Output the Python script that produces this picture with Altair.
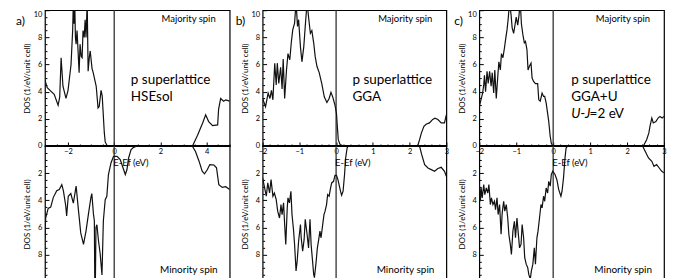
import altair as alt
import pandas as pd

FONT = "Lato"

# ---------------- data: panel a (HSEsol) ----------------
A_MAJ_E = [-3.0, -2.9, -2.78, -2.6, -2.43, -2.36, -2.30, -2.22, -2.09, -2.0, -1.87, -1.80, -1.77, -1.74,
           -1.71, -1.68, -1.65, -1.61, -1.56, -1.52, -1.48, -1.43, -1.39, -1.35, -1.30, -1.26, -1.22,
           -1.17, -1.13, -1.08, -1.04, -0.96, -0.91, -0.78, -0.70, -0.65, -0.57, -0.52, -0.43, -0.39,
           -0.30, 3.39, 3.61, 3.83, 3.96, 4.09, 4.26, 4.48, 4.52, 4.61, 4.74, 4.83, 5.0]
A_MAJ_D = [4.85, 4.3, 4.1, 3.8, 3.0, 3.6, 6.5, 4.4, 3.5, 4.1, 6.0, 8.5, 10.6, 9.0,
           10.6, 8.0, 7.5, 8.5, 6.8, 5.4, 7.5, 6.6, 6.5, 8.5, 8.0, 9.3, 8.0,
           10.6, 5.5, 6.5, 7.0, 5.7, 5.4, 4.4, 2.8, 2.9, 4.1, 3.7, 1.0, 0.3,
           0.0, 0.0, 0.8, 1.7, 2.3, 1.8, 1.5, 1.55, 2.7, 3.5, 3.3, 3.4, 3.3]
A_MIN_E = [-3.0, -2.97, -2.86, -2.75, -2.64, -2.49, -2.38, -2.27, -2.20, -2.10, -2.06, -1.99, -1.88,
           -1.77, -1.65, -1.55, -1.45, -1.33, -1.22, -1.12, -1.01, -0.97, -0.90, -0.86, -0.84, -0.82,
           -0.79, -0.75, -0.68, -0.61, -0.53, -0.47, -0.39, -0.32, -0.25, -0.14, -0.03, 0.12, 0.26,
           0.38, 0.48, 0.55, 0.62, 0.73, 0.84, 0.99, 3.38, 3.52, 3.67, 3.81, 3.91, 4.03, 4.14, 4.32,
           4.43, 4.53, 4.68, 4.83, 5.0]
A_MIN_D = [6.8, 5.3, 4.6, 4.5, 3.8, 3.3, 3.2, 2.85, 3.3, 4.4, 5.15, 3.7, 3.5,
           4.2, 2.95, 4.7, 6.4, 7.25, 6.25, 5.05, 3.8, 3.5, 5.0, 5.5, 10.6, 10.6,
           6.0, 5.8, 7.0, 7.9, 9.5, 5.5, 3.95, 3.7, 2.1, 1.25, 0.76, 0.76, 1.0,
           1.6, 2.1, 1.75, 0.9, 0.27, 0.1, 0.0, 0.0, 0.4, 1.1, 1.86, 2.05, 1.75, 1.37, 1.4,
           1.6, 2.85, 3.05, 3.0, 3.2]

# ---------------- data: panel b (GGA) ----------------
B_MAJ_E = [-2.0, -1.92, -1.85, -1.80, -1.76, -1.72, -1.67, -1.63, -1.60, -1.56, -1.51, -1.47, -1.44,
           -1.40, -1.35, -1.31, -1.26, -1.22, -1.18, -1.13, -1.09, -1.05, -1.02, -0.97, -0.93, -0.88,
           -0.84, -0.79, -0.75, -0.70, -0.66, -0.61, -0.57, -0.52, -0.46, -0.39, -0.32, -0.25, -0.19,
           -0.14, -0.09, -0.03, 0.01, 0.04, 0.06, 0.11, 0.20, 2.22, 2.27, 2.32, 2.39, 2.45, 2.54,
           2.63, 2.69, 2.77, 2.86, 2.95, 3.0]
B_MAJ_D = [3.5, 2.9, 3.9, 3.5, 4.1, 3.4, 6.1, 4.5, 6.1, 4.6, 5.8, 4.2, 6.4,
           3.5, 5.6, 6.8, 6.35, 7.6, 8.55, 9.05, 10.6, 8.8, 9.3, 7.3, 6.2, 7.3,
           8.8, 10.6, 9.5, 8.3, 8.5, 7.6, 6.6, 5.85, 5.4, 4.6, 3.6, 3.2, 3.5,
           3.95, 3.6, 3.0, 2.4, 1.2, 0.45, 0.1, 0.0, 0.0, 0.45, 0.95, 1.45, 1.6, 1.7,
           1.96, 2.05, 1.95, 1.7, 1.7, 2.3]
B_MIN_E = [-2.0, -1.90, -1.86, -1.81, -1.77, -1.72, -1.68, -1.63, -1.59, -1.54, -1.50, -1.47, -1.43,
           -1.40, -1.37, -1.33, -1.31, -1.27, -1.23, -1.20, -1.16, -1.13, -1.09, -1.06, -1.02, -0.97,
           -0.95, -0.91, -0.87, -0.84, -0.79, -0.75, -0.71, -0.68, -0.64, -0.61, -0.59, -0.55, -0.51,
           -0.48, -0.44, -0.41, -0.37, -0.33, -0.30, -0.26, -0.23, -0.19, -0.15, -0.12, -0.07, -0.03,
           0.01, 0.05, 0.08, 0.12, 0.15, 0.19, 0.23, 0.26, 0.30, 0.33, 2.27, 2.33, 2.41, 2.50, 2.59,
           2.68, 2.77, 2.86, 2.95, 3.0]
B_MIN_D = [2.35, 3.7, 2.72, 3.46, 2.48, 3.7, 3.46, 3.95, 4.8, 5.3, 4.31, 5.05, 4.19,
           5.78, 7.25, 4.56, 3.82, 4.19, 3.33, 5.05, 6.15, 7.25, 9.2, 8.5, 7.0, 5.78,
           6.76, 7.75, 6.88, 5.4, 6.5, 7.5, 5.4, 7.25, 8.5, 9.46, 9.7, 8.7, 7.5,
           7.0, 6.27, 6.76, 5.9, 5.05, 4.8, 4.31, 3.58, 3.7, 3.09, 2.72, 2.6, 2.16,
           2.16, 2.48, 2.84, 3.33, 3.63, 3.33, 2.1, 0.88, 0.15, 0.0, 0.0, 0.64, 1.37, 1.62, 1.74,
           1.86, 1.66, 1.57, 1.86, 2.23]

# ---------------- data: panel c (GGA+U) ----------------
C_MAJ_E = [-2.0, -1.955, -1.91, -1.88, -1.86, -1.83, -1.79, -1.76, -1.72, -1.68, -1.65, -1.61, -1.58,
           -1.54, -1.50, -1.47, -1.43, -1.40, -1.36, -1.32, -1.29, -1.25, -1.22, -1.18, -1.14, -1.11,
           -1.07, -1.04, -1.0, -0.96, -0.93, -0.89, -0.86, -0.82, -0.78, -0.75, -0.71, -0.68, -0.64,
           -0.60, -0.57, -0.53, -0.48, -0.42, -0.39, -0.35, -0.30, -0.26, -0.23, -0.19, -0.15, -0.12,
           -0.08, -0.05, -0.01, 2.44, 2.53, 2.59, 2.62, 2.67, 2.71, 2.78, 2.84, 2.89, 2.95, 3.0]
C_MAJ_D = [2.9, 3.4, 3.9, 4.5, 5.2, 4.0, 5.5, 4.6, 5.5, 4.4, 5.4, 3.9, 5.6,
           3.5, 5.1, 6.2, 5.6, 6.8, 6.5, 7.2, 7.8, 8.55, 9.3, 10.6, 9.66, 8.7,
           8.3, 8.8, 9.5, 8.9, 9.5, 10.6, 9.0, 8.2, 7.6, 7.7, 7.1, 5.6, 5.9,
           6.1, 5.0, 4.75, 4.6, 4.6, 3.4, 3.3, 3.9, 3.65, 3.65, 3.17, 2.4, 1.8,
           0.7, 0.2, 0.0, 0.0, 0.46, 0.96, 1.45, 2.06, 1.7, 1.8, 2.06, 2.18, 2.06, 2.18]
C_MIN_E = [-2.0, -1.97, -1.95, -1.92, -1.88, -1.85, -1.81, -1.77, -1.74, -1.70, -1.67, -1.63, -1.59,
           -1.56, -1.52, -1.49, -1.45, -1.41, -1.38, -1.34, -1.31, -1.27, -1.23, -1.20, -1.16, -1.13,
           -1.09, -1.05, -1.02, -0.98, -0.95, -0.91, -0.87, -0.84, -0.80, -0.77, -0.73, -0.69, -0.66,
           -0.62, -0.59, -0.55, -0.51, -0.48, -0.44, -0.41, -0.37, -0.33, -0.30, -0.26, -0.23, -0.19,
           -0.15, -0.12, -0.08, -0.05, -0.01, 0.05, 0.10, 0.15, 0.21, 0.24, 0.28, 0.32, 0.35, 0.39,
           2.42, 2.49, 2.58, 2.67, 2.73, 2.80, 2.87, 2.94, 3.0]
C_MIN_D = [2.72, 4.07, 3.09, 3.82, 2.84, 3.58, 3.09, 3.46, 2.84, 4.31, 3.82, 4.31, 4.07,
           4.68, 3.82, 5.05, 4.31, 6.5, 4.92, 4.07, 4.8, 4.31, 5.3, 6.5, 7.25, 7.99,
           6.27, 5.54, 6.76, 5.3, 6.27, 7.5, 7.25, 5.78, 6.76, 8.23, 8.7, 8.94, 9.46,
           9.8, 9.2, 8.7, 7.5, 8.7, 6.76, 6.27, 5.3, 4.31, 4.56, 3.7, 4.07, 3.09,
           3.46, 2.6, 2.96, 2.1, 1.86, 2.1, 2.48, 3.21, 3.7, 3.33, 2.35, 0.88, 0.15, 0.0,
           0.0, 0.39, 0.88, 1.13, 1.5, 1.37, 1.62, 1.86, 1.98]

# ---------------- axes / labels ----------------
Y_LABELS_TOP = [0, 2, 4, 6, 8, 10]
Y_LABELS_BOTTOM = [2, 4, 6, 8]
Y_TICKS = [i * 0.5 for i in range(21)]
A_XLABELS = [-2, 0, 2, 4]
A_XTICKS = [-3 + i * 0.5 for i in range(17)]
BC_XLABELS = [-2, -1, 0, 1, 2, 3]
BC_XTICKS = [round(-2 + i * 0.2, 1) for i in range(26)]
Y_TITLE = "DOS (1/eV/unit cell)"

H = 136


def txt(s, x, y, size, align="left", style="normal"):
    return alt.Chart(alt.Data(values=[{}])).mark_text(
        text=s, font=FONT, fontSize=size, align=align, baseline="middle",
        fontStyle=style, color="black"
    ).encode(x=alt.value(x), y=alt.value(y))


def half(E, D, xdom, W, top, xticks, xlabels, major_test, texts):
    df = pd.DataFrame({"E": E, "DOS": D})
    xscale = alt.Scale(domain=xdom, nice=False, zero=False)
    yscale = alt.Scale(domain=[0, 10], nice=False, zero=False, reverse=not top)
    ytitle = dict(title=Y_TITLE, titleX=-17, titleY=H / 2, titleBaseline="middle",
                  titleFontSize=8, titleFontWeight="normal")
    if top:
        xaxis = alt.Axis(orient="top", offset=-H, labels=False, domain=False, grid=False,
                         title=None, values=xticks, tickColor="black", tickWidth=1,
                         tickSize={"condition": {"test": major_test, "value": 4}, "value": 2})
        xlab_axis = alt.Axis(orient="bottom", ticks=False, tickSize=0, domain=False,
                             grid=False, title=None, values=xlabels, labelFontSize=7.5,
                             labelPadding=2, labelFlush=False)
        yaxis = alt.Axis(orient="left", values=Y_LABELS_TOP, ticks=False, tickSize=0,
                         domain=False, grid=False, labelFontSize=7.5, labelPadding=3,
                         labelBaseline={"condition": {"test": "datum.value == 10", "value": "top"},
                                        "value": "middle"}, **ytitle)
    else:
        xaxis = None
        xlab_axis = None
        yaxis = alt.Axis(orient="left", values=Y_LABELS_BOTTOM, ticks=False, tickSize=0,
                         domain=False, grid=False, labelFontSize=7.5, labelPadding=3, **ytitle)
    ytick_axis = alt.Axis(orient="right", offset=-W, labels=False, domain=False, grid=False,
                          title=None, values=Y_TICKS, tickColor="black", tickWidth=1,
                          tickSize={"condition": {"test": "datum.value % 2 == 0", "value": 4},
                                    "value": 2})

    vrule = alt.Chart(alt.Data(values=[{"E": 0}])).mark_rule(
        color="#333", strokeWidth=1.3
    ).encode(x=alt.X("E:Q", scale=xscale, axis=None))
    line = alt.Chart(df).mark_line(color="#111", strokeWidth=1.2, clip=True).encode(
        x=alt.X("E:Q", scale=xscale, axis=xaxis),
        y=alt.Y("DOS:Q", scale=yscale, axis=yaxis),
        order="E:Q",
    )
    ghost = alt.Chart(df).mark_line(opacity=0, clip=True).encode(
        x=alt.X("E:Q", scale=xscale, axis=xlab_axis),
        y=alt.Y("DOS:Q", scale=yscale, axis=ytick_axis),
        order="E:Q",
    )
    layers = [vrule, line, ghost]
    if top:
        hrule = alt.Chart(alt.Data(values=[{"DOS": 0}])).mark_rule(
            color="black", strokeWidth=2
        ).encode(y=alt.Y("DOS:Q", scale=yscale, axis=None))
        layers.append(hrule)
    layers += texts
    return alt.layer(*layers).resolve_axis(x="independent", y="independent").properties(
        width=W, height=H)


def panel(letter, lx, maj, mnr, xdom, W, xticks, xlabels, major_test, method_lines, mx):
    top_texts = [
        txt(letter, lx, 11, 12),
        txt("Majority spin", W - 14, 9, 9.5, align="right"),
        txt("p superlattice", mx, 70, 13.5),
    ]
    for i, m in enumerate(method_lines):
        if isinstance(m, list):
            for s, dx, style in m:
                top_texts.append(txt(s, mx + dx, 70 + 17 * (i + 1), 13.5, style=style))
        else:
            top_texts.append(txt(m, mx, 70 + 17 * (i + 1), 13.5))
    bot_texts = [
        txt("Minority spin", W - 12, 124, 10, align="right"),
        alt.Chart(alt.Data(values=[{"E": 0}])).mark_text(
            text="E-Ef (eV)", font=FONT, fontSize=9.5, align="left", baseline="middle",
            color="black", dx=-1
        ).encode(x=alt.X("E:Q", scale=alt.Scale(domain=xdom, nice=False, zero=False), axis=None),
                 y=alt.value(17)),
    ]
    t = half(maj[0], maj[1], xdom, W, True, xticks, xlabels, major_test, top_texts)
    b = half(mnr[0], mnr[1], xdom, W, False, xticks, xlabels, major_test, bot_texts)
    return t, b


INT_TEST = "abs(datum.value - round(datum.value)) < 0.001"
EVEN_TEST = "abs(datum.value / 2 - round(datum.value / 2)) < 0.001"

ta, ba = panel("a)", -29, (A_MAJ_E, A_MAJ_D), (A_MIN_E, A_MIN_D), [-3, 5], 185,
               A_XTICKS, A_XLABELS, EVEN_TEST, ["HSEsol"], 86)
tb, bb = panel("b)", -27, (B_MAJ_E, B_MAJ_D), (B_MIN_E, B_MIN_D), [-2, 3], 184,
               BC_XTICKS, BC_XLABELS, INT_TEST, ["GGA"], 90)
tc, bc = panel("c)", -25, (C_MAJ_E, C_MAJ_D), (C_MIN_E, C_MIN_D), [-2, 3], 185,
               BC_XTICKS, BC_XLABELS, INT_TEST,
               ["GGA+U", [("U", 0, "italic"), ("-", 9, "normal"), ("J", 14, "italic"),
                          ("=2 eV", 18.5, "normal")]], 92)

chart = alt.concat(ta, tb, tc, ba, bb, bc, columns=3,
                   spacing={"row": 0, "column": 33}, bounds="flush").properties(
    padding={"left": 7, "top": 0, "right": 0, "bottom": 0}
).configure_view(stroke="black", strokeWidth=1.2).configure_axis(
    labelFont=FONT, titleFont=FONT, labelColor="black", titleColor="black"
)

chart.save("out.html", embed_options={"renderer": "svg", "actions": False})
